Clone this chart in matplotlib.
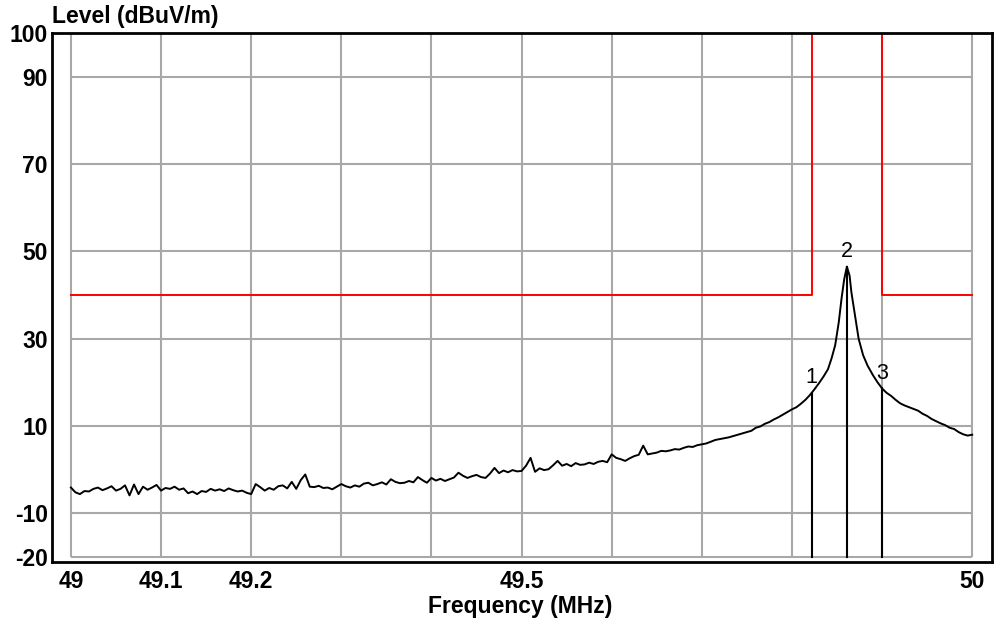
import matplotlib
matplotlib.use("Agg")
import matplotlib.pyplot as plt

plt.rcParams['font.family'] = ['Liberation Sans', 'DejaVu Sans']

# measured trace (MHz, dBuV/m)
freq = [
    49.000, 49.005, 49.010, 49.015, 49.020, 49.025, 49.030, 49.035, 49.040, 49.045,
    49.050, 49.055, 49.060, 49.065, 49.070, 49.075, 49.080, 49.085, 49.090, 49.095,
    49.100, 49.105, 49.110, 49.115, 49.120, 49.125, 49.130, 49.135, 49.140, 49.145,
    49.150, 49.155, 49.160, 49.165, 49.170, 49.175, 49.180, 49.185, 49.190, 49.195,
    49.200, 49.205, 49.210, 49.215, 49.220, 49.225, 49.230, 49.235, 49.240, 49.245,
    49.250, 49.255, 49.260, 49.265, 49.270, 49.275, 49.280, 49.285, 49.290, 49.295,
    49.300, 49.305, 49.310, 49.315, 49.320, 49.325, 49.330, 49.335, 49.340, 49.345,
    49.350, 49.355, 49.360, 49.365, 49.370, 49.375, 49.380, 49.385, 49.390, 49.395,
    49.400, 49.405, 49.410, 49.415, 49.420, 49.425, 49.430, 49.435, 49.440, 49.445,
    49.450, 49.455, 49.460, 49.465, 49.470, 49.475, 49.480, 49.485, 49.490, 49.495,
    49.500, 49.505, 49.510, 49.515, 49.520, 49.525, 49.530, 49.535, 49.540, 49.545,
    49.550, 49.555, 49.560, 49.565, 49.570, 49.575, 49.580, 49.585, 49.590, 49.595,
    49.600, 49.605, 49.610, 49.615, 49.620, 49.625, 49.630, 49.635, 49.640, 49.645,
    49.650, 49.655, 49.660, 49.665, 49.670, 49.675, 49.680, 49.685, 49.690, 49.695,
    49.700, 49.705, 49.710, 49.715, 49.720, 49.725, 49.730, 49.735, 49.740, 49.745,
    49.750, 49.755, 49.760, 49.765, 49.770, 49.775, 49.780, 49.785, 49.790, 49.795,
    49.800, 49.805, 49.810, 49.815, 49.820, 49.825, 49.830, 49.835, 49.840, 49.844,
    49.848, 49.852, 49.855, 49.858, 49.861, 49.864, 49.866, 49.870, 49.874, 49.879,
    49.884, 49.890, 49.895, 49.900, 49.905, 49.910, 49.915, 49.920, 49.925, 49.930,
    49.935, 49.940, 49.945, 49.950, 49.955, 49.960, 49.965, 49.970, 49.975, 49.980,
    49.985, 49.990, 49.995, 50.000,
]
level = [
    -4.1, -5.2, -5.6, -4.9, -5.0, -4.4, -4.1, -4.7, -4.3, -3.8,
    -4.8, -4.4, -3.6, -5.9, -3.4, -5.6, -3.9, -4.6, -4.1, -3.5,
    -4.8, -4.2, -4.4, -3.9, -4.6, -4.3, -5.4, -5.0, -5.6, -4.9,
    -5.1, -4.4, -4.8, -4.5, -4.9, -4.3, -4.7, -5.0, -4.8, -5.3,
    -5.6, -3.3, -4.0, -4.8, -4.2, -4.6, -3.8, -3.6, -4.3, -2.8,
    -4.4, -2.4, -1.1, -3.9, -4.0, -3.7, -4.2, -4.1, -4.5, -3.9,
    -3.3, -3.8, -4.1, -3.6, -3.9, -3.2, -3.0, -3.6, -3.3, -2.9,
    -3.4, -2.2, -2.8, -3.1, -3.0, -2.6, -2.9, -1.7, -2.4, -3.0,
    -1.9, -2.5, -2.1, -2.6, -2.2, -1.8, -0.7, -1.4, -1.9, -1.5,
    -1.2, -1.7, -1.9, -0.9, 0.4, -0.8, -0.2, -0.6, -0.1, -0.4,
    -0.3, 0.9, 2.7, -0.5, 0.3, -0.1, 0.1, 1.0, 2.0, 0.9,
    1.3, 0.8, 1.5, 1.1, 1.2, 1.6, 1.3, 1.8, 2.0, 1.7,
    3.5, 2.7, 2.4, 2.0, 2.6, 3.1, 3.4, 5.5, 3.5, 3.7,
    3.9, 4.3, 4.2, 4.4, 4.7, 4.6, 5.0, 5.3, 5.2, 5.6,
    5.8, 6.0, 6.4, 6.8, 7.0, 7.2, 7.4, 7.7, 8.0, 8.3,
    8.6, 8.9, 9.6, 9.9, 10.5, 10.9, 11.5, 12.0, 12.6, 13.2,
    13.8, 14.3, 15.1, 16.0, 17.1, 18.4, 19.8, 21.3, 23.0, 25.5,
    28.5, 33.8, 39.1, 43.6, 46.5, 44.4, 40.6, 35.3, 30.0, 26.2,
    23.8, 21.6, 20.0, 18.6, 17.6, 16.9, 16.0, 15.2, 14.7, 14.3,
    13.9, 13.5, 12.8, 12.3, 11.6, 11.1, 10.6, 10.2, 9.6, 9.3,
    8.6, 8.1, 7.8, 8.0,
]

# limit line
limit_freq = [49.0, 49.822, 49.822, 49.9, 49.9, 50.0]
limit_level = [40, 40, 100, 100, 40, 40]

# markers
marker_freq = [49.822, 49.861, 49.9]
marker_level = [17.6, 46.5, 18.6]
marker_names = ["1", "2", "3"]

x_grid = [49.0, 49.1, 49.2, 49.3, 49.4, 49.5, 49.6, 49.7, 49.8, 49.9, 50.0]
y_ticks = [100, 90, 70, 50, 30, 10, -10, -20]
x_ticks = [49, 49.1, 49.2, 49.5, 50]
x_ticklabels = ["49", "49.1", "49.2", "49.5", "50"]

fig = plt.figure(figsize=(9.98, 6.25), dpi=100)
ax = fig.add_axes([52 / 998, 1 - 562 / 625, 940 / 998, 529 / 625])

ax.set_xlim(48.979, 50.022)
ax.set_ylim(-21.15, 100)

ax.vlines(x_grid, -20, 100, color="#a8a8a8", lw=1.5, zorder=1)
ax.hlines(y_ticks, 49.0, 50.0, color="#a8a8a8", lw=1.5, zorder=1)

ax.plot(limit_freq, limit_level, color="#ff0000", lw=1.4, zorder=2)
ax.plot(freq, level, color="black", lw=1.4, zorder=3)

for f, v, name in zip(marker_freq, marker_level, marker_names):
    ax.plot([f, f], [-20, v], color="black", lw=1.5, zorder=3)
    ax.text(f, v + 1.0, name, ha="center", va="bottom", fontsize=15.5, zorder=4)

ax.set_yticks(y_ticks)
ax.set_yticklabels([str(t) for t in y_ticks], fontsize=16.5, fontweight="bold")
ax.set_xticks(x_ticks)
ax.set_xticklabels(x_ticklabels, fontsize=16.5, fontweight="bold")
ax.tick_params(length=0)
ax.tick_params(axis="y", pad=3)
ax.tick_params(axis="x", pad=6)

for s in ax.spines.values():
    s.set_linewidth(2)
    s.set_color("black")

fig.text(52 / 998, 1 - 17 / 625, "Level (dBuV/m)", fontsize=16.5, fontweight="bold",
         ha="left", va="center")
fig.text(520 / 998, 1 - 607 / 625, "Frequency (MHz)", fontsize=16.5, fontweight="bold",
         ha="center", va="center")

fig.savefig("out.png", dpi=100)
